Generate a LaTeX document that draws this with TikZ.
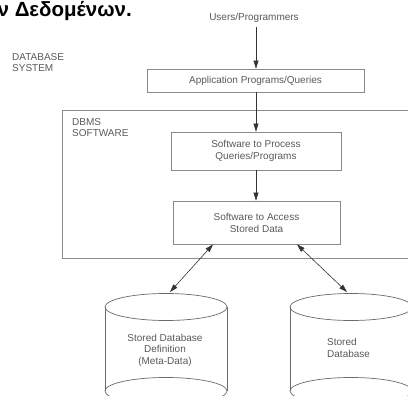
\documentclass[tikz,border=0pt]{standalone}
\usepackage{fontspec}
\setmainfont{Liberation Sans}
\usetikzlibrary{arrows.meta}
\definecolor{boxline}{HTML}{8A8A8A}
\definecolor{cylline}{HTML}{6A6A6A}
\definecolor{txt}{HTML}{5A5A5A}
\definecolor{arr}{HTML}{333333}
\begin{document}
\begin{tikzpicture}[x=1pt,y=-1pt,
  box/.style={draw=boxline, line width=0.8pt, rectangle, inner sep=0pt,
    font=\fontsize{10}{12}\selectfont, text=txt, align=center},
  lbl/.style={font=\fontsize{10}{11}\selectfont, text=txt, align=left, inner sep=0pt},
  conn/.style={draw=arr, line width=0.6pt, -{Triangle[length=8pt,width=5pt]}},
  dconn/.style={draw=arr, line width=0.6pt, {Triangle[length=8pt,width=5pt]}-{Triangle[length=8pt,width=5pt]}},
  cyl/.style={draw=cylline, line width=0.7pt}]
\useasboundingbox (0,0) rectangle (408,396);
\clip (0,0) rectangle (408,396);
\fill[white] (0,0) rectangle (408,396);

% title fragment
\node[anchor=base east, inner sep=0pt, font=\bfseries\fontsize{20.5}{22}\selectfont] (title) at (132,17) {ν Δεδομένων.};

% labels (base = last line)
\node[lbl, anchor=base west] (dbsys) at (12,72) {DATABASE\\SYSTEM};
\node[lbl, anchor=base west] (dbmssw) at (72,137) {DBMS\\SOFTWARE};

% users
\node[lbl, anchor=base, inner sep=0pt] (users) at (254,21) {Users/Programmers};
\coordinate (usersout) at (256,27);

% boxes
\node[draw=boxline, line width=0.8pt, minimum width=358pt, minimum height=148pt, inner sep=0pt] (dbms) at (241,184) {};
\node[box, minimum width=217pt, minimum height=23pt] (app) at (255.5,80.5) {Application Programs/Queries};
\node[box, minimum width=170pt, minimum height=38pt] (proc) at (256,151) {Software to Process\\Queries/Programs};
\node[box, minimum width=167pt, minimum height=43pt] (acc) at (256.5,222.5) {Software to Access\\Stored Data};

% cylinders
\draw[cyl] (166,391) ellipse [x radius=61, y radius=13.5];
\draw[cyl] (105,307) -- (105,391) (227,307) -- (227,391);
\draw[cyl] (166,307) ellipse [x radius=61, y radius=13.5];
\draw[cyl] (351,391) ellipse [x radius=61, y radius=13.5];
\draw[cyl] (290,307) -- (290,391) (412,307) -- (412,391);
\draw[cyl] (351,307) ellipse [x radius=61, y radius=13.5];
\coordinate (cyl1top) at (170,292);
\coordinate (cyl2top) at (347,292);

\node[lbl, align=center, anchor=base, font=\fontsize{10}{11.5}\selectfont] (meta) at (165,364) {Stored Database\\Definition\\(Meta-Data)};
\node[lbl, anchor=base west, font=\fontsize{10}{11.5}\selectfont] (stored) at (327,357) {Stored\\Database};

% connectors
\draw[conn] (usersout) -- (app.north -| usersout);
\draw[conn] (app.south -| usersout) -- (proc.north -| usersout);
\draw[conn] (proc.south -| usersout) -- (acc.north -| usersout);
\draw[dconn] ([xshift=-43.5pt]acc.south) -- (cyl1top);
\draw[dconn] ([xshift=40.5pt]acc.south) -- (cyl2top);
\end{tikzpicture}
\end{document}
